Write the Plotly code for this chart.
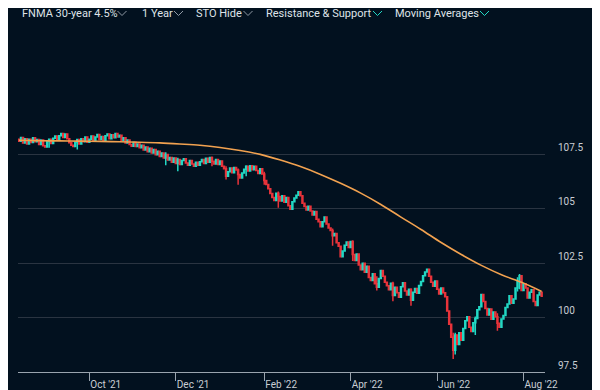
import pandas as pd
import plotly.graph_objects as go

# ---------------- data ----------------
start_date = "2021-08-13"
first_open = 108.20
closes = [
    108.10, 108.28, 108.02, 108.22, 107.98, 108.20, 108.05, 108.26, 108.08, 108.18,
    107.96, 108.16, 107.90, 107.84, 108.10, 108.20, 108.00, 108.24, 108.34, 108.16,
    108.36, 108.46, 108.28, 108.44, 108.22, 108.04, 107.92, 107.86, 108.06, 108.18,
    107.98, 108.22, 108.08, 108.30, 108.06, 108.20, 108.34, 108.14, 108.30, 108.42,
    108.18, 108.32, 108.14, 108.36, 108.44, 108.22, 108.40, 108.26, 108.46, 108.30,
    108.38, 108.14, 108.26, 108.02, 108.16, 107.96, 107.88, 108.06, 107.86, 107.98,
    107.80, 107.92, 107.70, 107.84, 107.62, 107.78, 107.56, 107.72, 107.48, 107.64,
    107.40, 107.56, 107.34, 107.50, 107.24, 107.36, 107.14, 107.34, 107.08, 107.26,
    107.04, 107.22, 107.30, 107.10, 107.00, 107.22, 107.06, 106.96, 107.14, 107.00,
    107.16, 107.26, 107.08, 107.32, 107.14, 107.36, 107.18, 107.06, 107.26, 107.04,
    107.20, 106.96, 106.84, 106.50, 106.70, 106.88, 106.66, 106.90, 106.78, 106.58,
    106.42, 106.64, 106.82, 106.96, 106.74, 106.98, 106.80, 106.96, 106.76, 106.62,
    106.84, 106.60, 106.30, 106.12, 105.92, 105.70, 105.52, 105.38, 105.72, 105.56,
    105.36, 105.60, 105.30, 105.52, 105.14, 104.98, 105.32, 105.50, 105.62, 105.78,
    105.60, 105.26, 105.10, 104.94, 105.12, 104.90, 104.72, 104.88, 104.52, 104.40,
    104.18, 104.40, 104.62, 104.30, 104.12, 104.00, 103.76, 103.86, 103.44, 103.28,
    102.80, 103.06, 103.32, 103.48, 103.22, 103.50, 102.90, 102.62, 102.92, 102.42,
    102.20, 102.50, 102.08, 102.36, 101.84, 101.70, 102.02, 101.56, 101.40, 101.80,
    102.16, 101.90, 101.62, 101.46, 101.28, 101.58, 101.02, 101.40, 101.14, 100.94,
    101.42, 101.60, 101.22, 101.04, 101.30, 100.80, 101.16, 101.34, 101.12, 101.48,
    101.66, 101.92, 102.10, 102.22, 101.90, 101.62, 101.44, 101.68, 101.30, 101.08,
    101.36, 101.14, 100.96, 100.30, 99.70, 99.10, 98.50, 99.20, 98.76, 99.30,
    98.96, 99.50, 99.86, 100.04, 99.56, 99.36, 99.76, 99.96, 100.36, 100.50,
    101.06, 100.74, 100.42, 100.12, 100.40, 99.92, 100.26, 100.04, 99.74, 99.56,
    99.94, 100.10, 100.46, 100.62, 101.00, 100.66, 100.86, 101.36, 101.66, 101.92,
    101.24, 101.56, 101.36, 100.90, 101.16, 101.28, 100.74, 100.56, 101.04, 101.16,
    100.98,
]
# notable wicks: day index -> (high, low)
wicks = {
    15: (108.22, 107.80), 29: (108.20, 107.72), 73: (107.60, 107.00),
    79: (107.35, 106.72), 96: (107.40, 106.95), 103: (106.95, 106.35),
    109: (106.85, 106.10), 113: (107.00, 106.50), 122: (106.70, 106.10),
    129: (105.80, 105.05), 156: (104.10, 103.30), 166: (103.55, 102.60),
    178: (101.90, 101.25), 186: (101.65, 100.75), 195: (101.35, 100.55),
    216: (99.30, 98.10), 217: (99.30, 98.30), 227: (100.05, 99.20),
    238: (100.20, 99.40), 248: (101.85, 101.20), 249: (102.00, 101.30),
}
# 100-day moving average, read every 10 sessions
ma_index = [0, 10, 20, 30, 40, 50, 60, 70, 80, 90, 100, 110, 120, 130,
            140, 150, 160, 170, 180, 190, 200, 210, 220, 230, 240, 250, 260]
ma_values = [108.15, 108.13, 108.12, 108.11, 108.10, 108.08, 108.06, 108.03,
             107.98, 107.92, 107.82, 107.68, 107.50, 107.24, 106.94, 106.58,
             106.17, 105.72, 105.20, 104.62, 104.05, 103.45, 102.90, 102.40,
             101.97, 101.62, 101.20]
y_ticks = [97.5, 100, 102.5, 105, 107.5, 110]
y_ticktext = ["97.5", "100", "102.5", "105", "107.5", ""]
menu_items = ["FNMA 30-year 4.5%", "1 Year", "STO Hide", "Resistance & Support", "Moving Averages"]

# ---------------- build ----------------
dates = pd.bdate_range(start_date, periods=len(closes))
opens = [first_open] + closes[:-1]
highs, lows = [], []
for i, (o, c) in enumerate(zip(opens, closes)):
    h, l = wicks.get(i, (max(o, c), min(o, c)))
    highs.append(max(h, o, c))
    lows.append(min(l, o, c))

BG = "#02111f"
TEAL = "#22d8c4"
RED = "#e8333a"
ORANGE = "#f2a250"
OFF = 8  # page body margin
W, H = 600, 390
# plot area in page pixels: x 18..545, y 100..372
ML, MT = 18 - OFF, 100 - OFF
MR = W - (545 - OFF)
MB = H - (372 - OFF)
PW, PH = W - ML - MR, H - MT - MB


def px(x, y):
    """page pixel -> paper coords"""
    return (x - OFF - ML) / PW, 1 - (y - OFF - MT) / PH


fig = go.Figure()
fig.add_trace(go.Candlestick(
    x=dates, open=opens, high=highs, low=lows, close=closes,
    increasing=dict(line=dict(color=TEAL, width=1.5), fillcolor=TEAL),
    decreasing=dict(line=dict(color=RED, width=1.5), fillcolor=RED),
    whiskerwidth=0, showlegend=False, hoverinfo="skip",
))
fig.add_trace(go.Scatter(
    x=[dates[i] for i in ma_index], y=ma_values, mode="lines",
    line=dict(color=ORANGE, width=1.6, shape="spline"),
    showlegend=False, hoverinfo="skip",
))

# menu bar
menu_x = [20, 140, 194, 264, 393]
chev_x = [122, 178.5, 248, 377.5, 484.5]
chev_col = ["#8f99a4", "#8f99a4", "#8f99a4", TEAL, TEAL]
annotations = []
shapes = []
for label, x0, cx, cc in zip(menu_items, menu_x, chev_x, chev_col):
    ax, ay = px(x0, 13)
    annotations.append(dict(
        x=ax, y=ay, xref="paper", yref="paper", text=label, showarrow=False,
        xanchor="left", yanchor="middle",
        font=dict(family="Roboto", size=11, color="#dfe3e8"),
    ))
    p1 = px(cx - 4.5, 11)
    p2 = px(cx, 15.5)
    p3 = px(cx + 4.5, 11)
    shapes.append(dict(
        type="path", xref="paper", yref="paper",
        path=f"M {p1[0]},{p1[1]} L {p2[0]},{p2[1]} L {p3[0]},{p3[1]}",
        line=dict(color=cc, width=1),
    ))
# thin edge bar at the top-right corner
e0, e1 = px(598.5, 0), px(598.5, 30)
shapes.append(dict(type="line", xref="paper", yref="paper",
                   x0=e0[0], y0=e0[1], x1=e1[0], y1=e1[1],
                   line=dict(color="#3d5566", width=1.5)))

fig.update_layout(
    width=W, height=H,
    margin=dict(l=ML, r=MR, t=MT, b=MB, pad=0, autoexpand=False),
    paper_bgcolor=BG, plot_bgcolor=BG,
    font=dict(family="Roboto", size=10, color="#c9ced4"),
    annotations=annotations, shapes=shapes,
    hovermode=False,
)
fig.update_xaxes(
    type="date", automargin=False,
    range=["2021-08-12 12:00", "2022-08-15 16:00"],
    rangebreaks=[dict(bounds=["sat", "mon"])],
    rangeslider=dict(visible=False),
    dtick="M2", tick0="2021-10-01", tickformat="%b '%y",
    ticks="outside", ticklen=8, tickcolor="#9aa4ae", tickwidth=1,
    ticklabelposition="outside right", ticklabelstandoff=3,
    showline=True, linecolor="#9aa4ae", linewidth=1,
    showgrid=False, zeroline=False,
    tickfont=dict(family="Roboto", size=10, color="#c9ced4"),
)
fig.update_yaxes(
    side="right", range=[97.5, 110], automargin=False,
    tickvals=y_ticks, ticktext=y_ticktext,
    ticklabelposition="outside top", ticklabelstandoff=12,
    ticks="", showline=False,
    showgrid=True, gridcolor="#2a3441", gridwidth=1, zeroline=False,
    tickfont=dict(family="Roboto", size=10, color="#c9ced4"),
)

fig.write_html("out.html")
